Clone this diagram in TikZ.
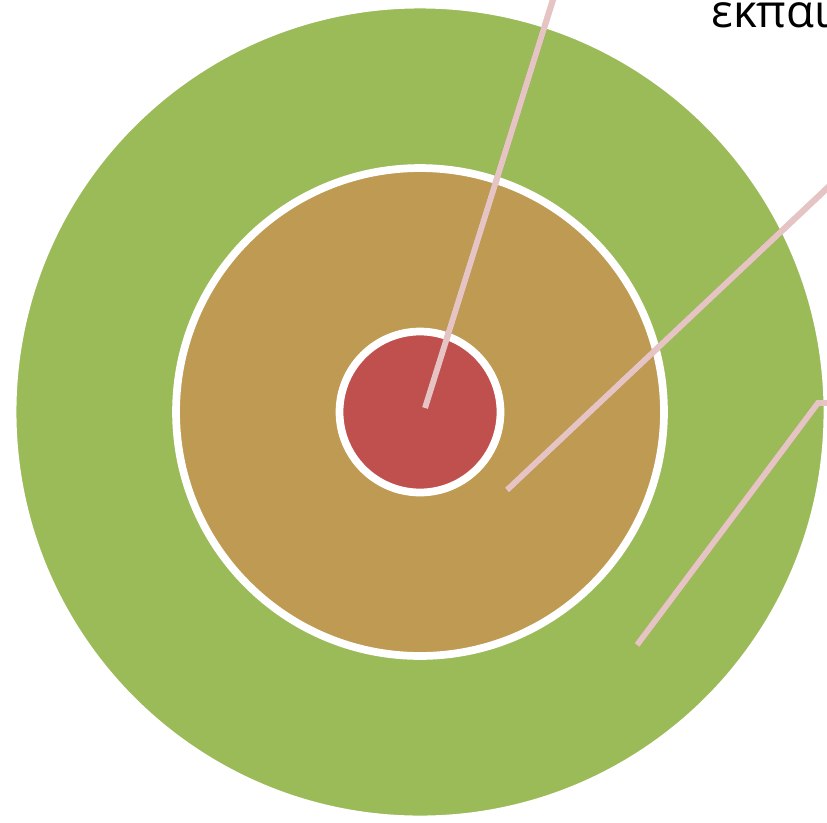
\documentclass[tikz,border=0pt]{standalone}
\usepackage{fontspec}
\setmainfont{Open Sans}
\usetikzlibrary{shadows}

\definecolor{anello}{HTML}{9BBB59}
\definecolor{medio}{HTML}{BE9A52}
\definecolor{nucleo}{HTML}{C0504D}
\definecolor{richiamo}{HTML}{E6C4C4}

\tikzset{
    cerchio/.style={circle, draw=white, line width=4.4pt, inner sep=0pt,
        drop shadow={opacity=0.25, shadow xshift=0.6pt, shadow yshift=-0.9pt}},
    linea/.style={richiamo, line width=3.4pt},
    ombra/.style={black, opacity=0.15, line width=3.4pt, xshift=1pt, yshift=-1.2pt}
}

\begin{document}
\begin{tikzpicture}[x=0.02cm, y=-0.02cm]

        \useasboundingbox (0,0) rectangle (827,822);
        \clip (0,0) rectangle (827,822);

        % Centro dei cerchi
        \def\cx{420}
        \def\cy{412}

        % ----------------------------------------------------
        % 1. Cerchi concentrici
        % ----------------------------------------------------
        \node[cerchio, fill=anello, minimum size=16.3cm] (esterno) at (\cx,\cy) {};
        \node[cerchio, fill=medio, minimum size=9.76cm] (intermedio) at (\cx,\cy) {};
        \node[cerchio, fill=nucleo, minimum size=3.22cm] (centro) at (\cx,\cy) {};

        % ----------------------------------------------------
        % 2. Linee di richiamo
        % ----------------------------------------------------
        \coordinate (r1a) at (425,408);
        \coordinate (r1b) at (556,-10);
        \coordinate (r2a) at (507,490);
        \coordinate (r2b) at (840,176);
        \coordinate (r3a) at (637,645);
        \coordinate (r3b) at (818,403);
        \coordinate (r3c) at (840,403);

        % ombre delle linee
        \draw[ombra] (r1a) -- (r1b);
        \draw[ombra] (r2a) -- (r2b);
        \draw[ombra] (r3a) -- (r3b) -- (r3c);

        \draw[linea] (r1a) -- (r1b);
        \draw[linea] (r2a) -- (r2b);
        \draw[linea] (r3a) -- (r3b) -- (r3c);

        % Testo (tagliato dal bordo)
        \node[anchor=base west, inner sep=0pt, font=\fontsize{26}{30}\selectfont] (titolo) at (711,27) {εκπαι};

\end{tikzpicture}
\end{document}
